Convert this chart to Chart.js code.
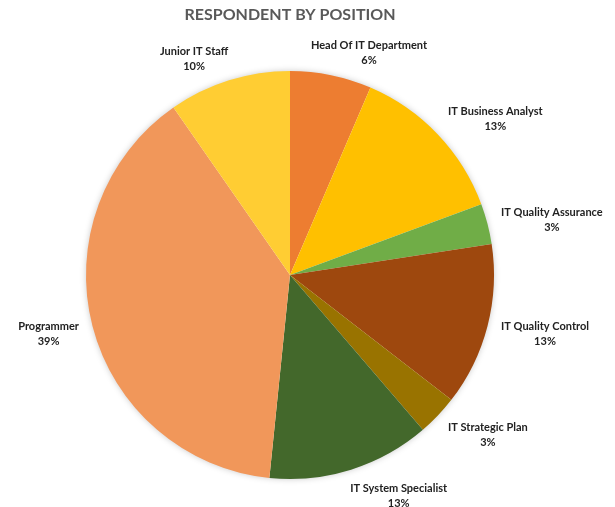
<!DOCTYPE html>
<html>
<head>
<meta charset="utf-8">
<script src="https://cdn.jsdelivr.net/npm/chart.js@4/dist/chart.umd.min.js"></script>
<style>
  html, body { margin: 0; padding: 0; background: #fff; }
  #wrap { width: 615px; height: 507px; }
</style>
</head>
<body>
<div id="wrap"><canvas id="myChart" width="615" height="507"></canvas></div>
<script>
// respondents per position (labels show rounded share of total)
const positions = ['Head Of IT Department', 'IT Business Analyst', 'IT Quality Assurance',
                   'IT Quality Control', 'IT Strategic Plan', 'IT System Specialist',
                   'Programmer', 'Junior IT Staff']
const respondents = [2, 4, 1, 4, 1, 4, 12, 3]
const sliceColors = ['#ED7D31', '#FFC000', '#70AD47', '#9E480E', '#997300', '#43682B', '#F1975A', '#FFCD33']

// soft shadow under the whole pie, like the office chart
const pieShadow = {
    id: 'pieShadow',
    beforeDatasetsDraw(chart) {
        const arc = chart.getDatasetMeta(0).data[0]
        if (!arc) return
        const p = arc.getProps(['x', 'y', 'outerRadius'], true)
        const ctx = chart.ctx
        ctx.save()
        ctx.shadowColor = 'rgba(0,0,0,0.28)'
        ctx.shadowBlur = 7
        ctx.fillStyle = '#fff'
        ctx.beginPath()
        ctx.arc(p.x, p.y, p.outerRadius - 1, 0, Math.PI * 2)
        ctx.fill()
        ctx.restore()
    }
}

// category name + percent outside each slice
const outsideLabels = {
    id: 'outsideLabels',
    afterDatasetsDraw(chart) {
        const ctx = chart.ctx
        const meta = chart.getDatasetMeta(0)
        const values = chart.data.datasets[0].data
        const total = values.reduce((a, b) => a + b, 0)
        ctx.save()
        ctx.font = 'bold 11px Lato'
        ctx.fillStyle = '#222'
        ctx.textAlign = 'center'
        ctx.textBaseline = 'middle'
        meta.data.forEach((arc, i) => {
            const p = arc.getProps(['x', 'y', 'startAngle', 'endAngle', 'outerRadius'], true)
            const mid = (p.startAngle + p.endAngle) / 2
            const dx = Math.cos(mid), dy = Math.sin(mid)
            const ax = p.x + dx * (p.outerRadius + 14)
            const ay = p.y + dy * (p.outerRadius + 10)
            const line1 = chart.data.labels[i]
            const line2 = Math.round(values[i] / total * 100) + '%'
            const w = Math.max(ctx.measureText(line1).width, ctx.measureText(line2).width)
            const h = 30
            const k = Math.max(-1, Math.min(1, dx * 3))
            const cx = ax + k * w / 2
            const cy = ay + dy * h / 2 + 2
            ctx.fillText(line1, cx, cy - 7.5)
            ctx.fillText(line2, cx, cy + 7.5)
        })
        ctx.restore()
    }
}

var ctx = document.getElementById('myChart')
var myChart = new Chart(ctx, {
    type: 'pie',
    data: {
        labels: positions,
        datasets: [{
            data: respondents,
            backgroundColor: sliceColors,
            borderWidth: 0
        }]
    },
    options: {
        responsive: false,
        animation: false,
        layout: {
            padding: { top: 0, bottom: 28, left: 80, right: 115 }
        },
        plugins: {
            legend: { display: false },
            tooltip: { enabled: false },
            title: {
                display: true,
                text: 'RESPONDENT BY POSITION',
                color: '#595959',
                font: { family: 'Lato', size: 16, weight: 'bold' },
                padding: { top: 5, bottom: 46.8 }
            }
        }
    },
    plugins: [pieShadow, outsideLabels]
})
</script>
</body>
</html>
